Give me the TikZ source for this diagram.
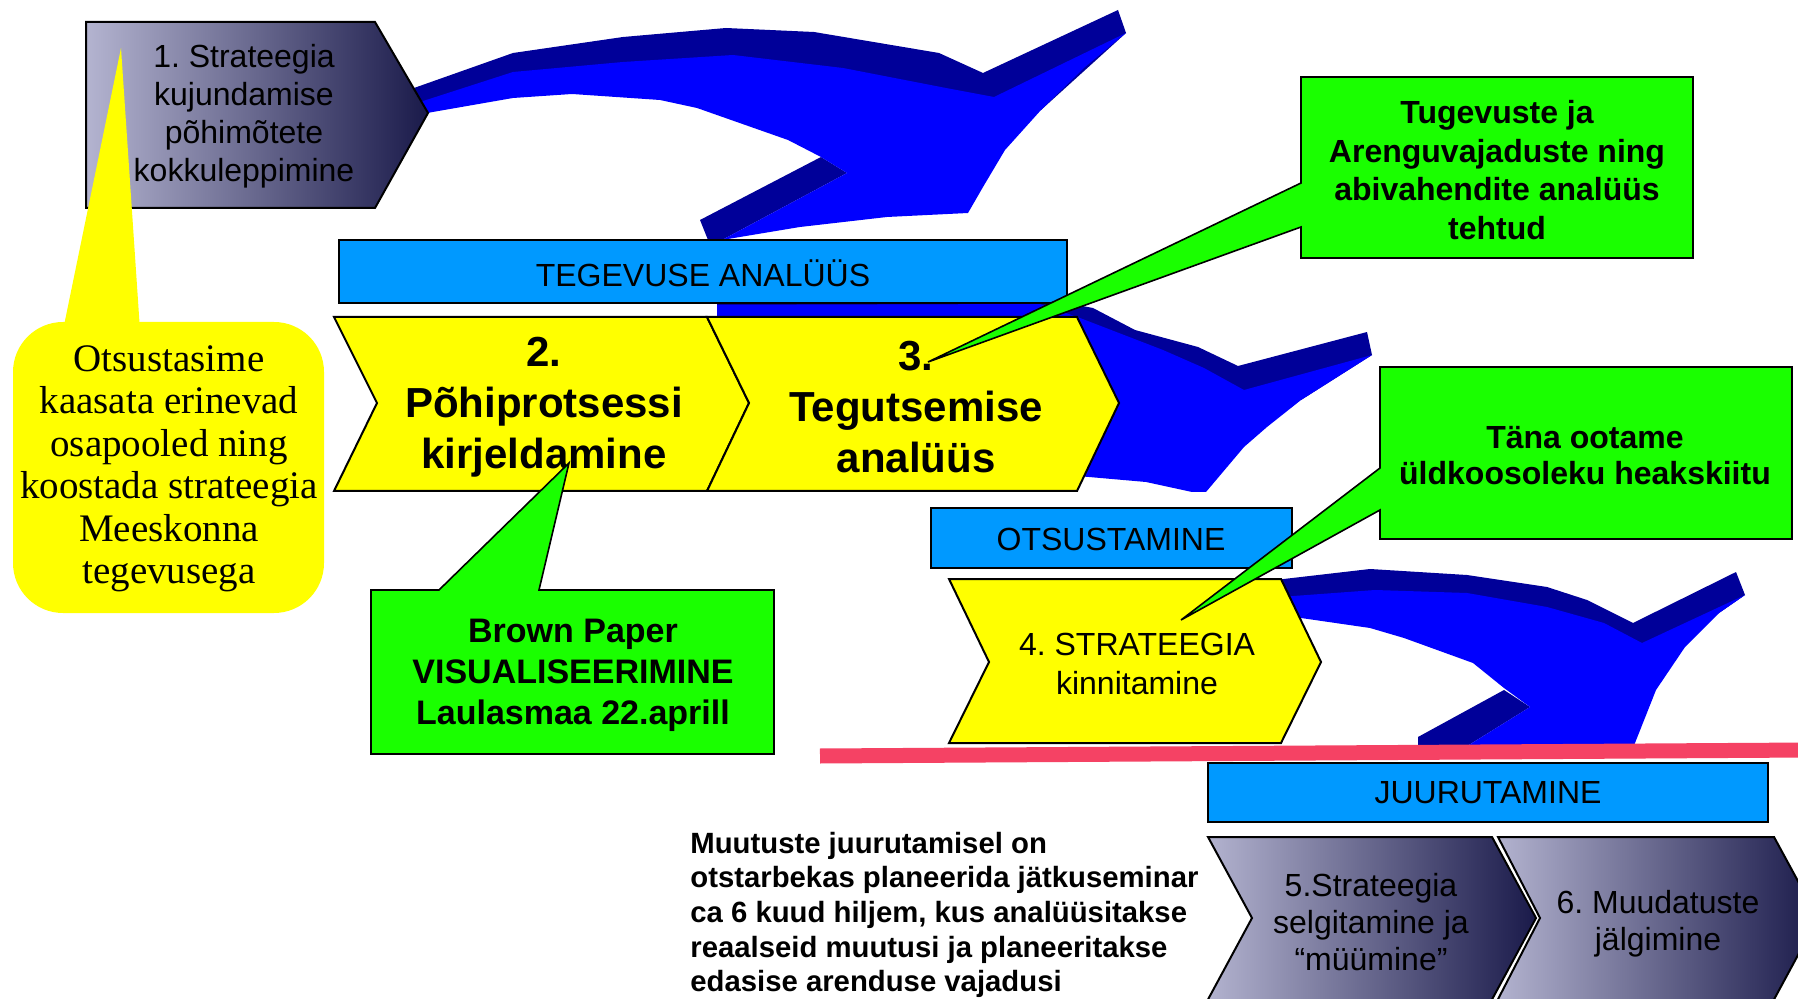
\documentclass[tikz,border=0pt]{standalone}
\usepackage{fontspec}
\setmainfont{Liberation Sans}
\newfontfamily\tnr{Liberation Serif}
\definecolor{bbright}{RGB}{0,0,255}
\definecolor{bdark}{RGB}{0,0,153}
\definecolor{lblue}{RGB}{0,153,255}
\definecolor{yel}{RGB}{255,255,0}
\definecolor{grn}{RGB}{26,255,0}
\definecolor{redl}{RGB}{245,66,100}
\definecolor{gradL}{RGB}{180,180,208}
\definecolor{gradR}{RGB}{26,26,74}
\newcommand{\myfs}[2]{\fontsize{#1}{#2}\selectfont}
\frenchspacing
\begin{document}
\begin{tikzpicture}[x=0.5pt,y=-0.5pt,
  lbl/.style={fill=lblue,draw=black,line width=1pt},
  chev/.style={fill=yel,draw=black,line width=1pt,line join=miter},
  grad/.style={left color=gradL,right color=gradR,draw=black,line width=1pt},
  callout/.style={fill=grn,draw=black,line width=0.8pt},
  txt/.style={inner sep=0pt,align=center}]
\clip (0,0) rectangle (1798,999);
\fill[white] (0,0) rectangle (1798,999);

% ---- arrow 1
\fill[bdark] (414,88) -- (513,53) -- (623,37) -- (726,28) -- (814,32) -- (939,53) -- (983,73) -- (1118,10) -- (1126,33) -- (1041,110) -- (946,110) -- (843,85) -- (733,75) -- (623,80) -- (513,90) -- (427,113) -- cycle;
\fill[bdark] (821,157) -- (847,173) -- (722,240) -- (708,240) -- (700,220) -- cycle;
\fill[bbright] (420,102) -- (513,72) -- (623,62) -- (733,55) -- (843,68) -- (946,88) -- (994,97) -- (1126,33) -- (1085,67) -- (1041,110) -- (1005,150) -- (983,187) -- (968,213) -- (887,217) -- (800,227) -- (722,240) -- (847,173) -- (821,157) -- (788,140) -- (697,108) -- (660,100) -- (572,94) -- (513,98) -- (427,113) -- cycle;

% ---- arrow 2
\fill[bdark] (717,298) -- (900,290) -- (1040,298) -- (1093,308) -- (1135,330) -- (1198,347) -- (1238,366) -- (1367,332) -- (1372,355) -- (1301,400) -- (1240,400) -- (1160,370) -- (1080,330) -- (717,320) -- cycle;
\fill[bbright] (717,305) -- (1040,304) -- (1080,318) -- (1163,350) -- (1204,368) -- (1244,390) -- (1372,355) -- (1301,400) -- (1267,427) -- (1244,447) -- (1206,492) -- (1192,492) -- (1146,482) -- (1089,477) -- (1000,470) -- (717,330) -- cycle;

% ---- arrow 3
\fill[bdark] (1275,580) -- (1370,569) -- (1467,575) -- (1547,587) -- (1587,600) -- (1633,623) -- (1736,572) -- (1745,595) -- (1719,613) -- (1640,660) -- (1540,640) -- (1450,625) -- (1370,612) -- (1275,610) -- cycle;
\fill[bdark] (1504,690) -- (1530,707) -- (1464,748) -- (1418,748) -- (1418,737) -- cycle;
\fill[bbright] (1280,597) -- (1375,590) -- (1467,593) -- (1547,607) -- (1604,623) -- (1642,643) -- (1745,595) -- (1719,613) -- (1685,647) -- (1656,690) -- (1633,748) -- (1464,748) -- (1530,707) -- (1504,688) -- (1473,663) -- (1404,638) -- (1370,628) -- (1301,618) -- (1280,618) -- cycle;

% ---- box 1
\draw[grad] (86,22) -- (375,22) -- (428,113) -- (375,208) -- (86,208) -- cycle;
\node[txt,font=\myfs{16}{19}] (t1) at (244,116) {1. Strateegia\\kujundamise\\põhimõtete\\kokkuleppimine};

% ---- blue labels
\draw[lbl] (339,240) rectangle (1067,303);
\node[txt,font=\myfs{16}{19}] (l1) at (703,273) {TEGEVUSE ANALÜÜS};
\draw[lbl] (931,508) rectangle (1292,568);
\node[txt,font=\myfs{16}{19}] (l2) at (1111,539) {OTSUSTAMINE};
\draw[lbl] (1208,763) rectangle (1768,822);
\node[txt,font=\myfs{16}{19}] (l3) at (1488,793) {JUURUTAMINE};

% ---- yellow chevrons
\draw[chev] (334,317) -- (707,317) -- (749,403) -- (707,491) -- (334,491) -- (377,403) -- cycle;
\draw[chev] (707,317) -- (1077,317) -- (1119,403) -- (1077,491) -- (707,491) -- (749,403) -- cycle;
\node[txt,font=\bfseries\myfs{21}{25.5}] (c2) at (544,407) {2.\\Põhiprotsessi\\kirjeldamine};
\node[txt,font=\bfseries\myfs{21}{25.5}] (c3) at (916,407) {3.\\Tegutsemise\\analüüs};
\draw[chev] (949,579) -- (1281,579) -- (1321,662) -- (1281,743) -- (949,743) -- (989,662) -- cycle;
\node[txt,font=\myfs{16}{19.5}] (c4) at (1137,664) {4. STRATEEGIA\\kinnitamine};

% ---- yellow callout
\fill[yel,rounded corners=25pt] (13,322) rectangle (324,613);
\fill[yel] (60,345) -- (121,48) -- (141,345) -- cycle;
\node[txt,font=\tnr\myfs{19.5}{21.25}] (y1) at (169,469) {Otsustasime\\kaasata erinevad\\osapooled ning\\koostada strateegia\\Meeskonna\\tegevusega};

% ---- green callouts
\draw[callout] (1301,77) -- (1693,77) -- (1693,258) -- (1301,258) -- (1301,227) -- (928,362) -- (1301,183) -- cycle;
\node[txt,font=\bfseries\myfs{16}{19.25}] (g1) at (1497,170) {Tugevuste ja\\Arenguvajaduste ning\\abivahendite analüüs\\tehtud};
\draw[callout] (1380,367) -- (1792,367) -- (1792,539) -- (1380,539) -- (1380,510) -- (1181,620) -- (1380,468) -- cycle;
\node[txt,font=\bfseries\myfs{16}{18}] (g2) at (1585,456) {Täna ootame\\üldkoosoleku heakskiitu};
\draw[callout] (371,590) -- (439,590) -- (569,463) -- (539,590) -- (774,590) -- (774,754) -- (371,754) -- cycle;
\node[txt,font=\bfseries\myfs{17}{20.5}] (g3) at (573,675) {Brown Paper\\VISUALISEERIMINE\\Laulasmaa 22.aprill};

% ---- red line
\draw[redl,line width=7.5pt] (820,756) -- (1810,750);

% ---- bottom chevrons
\draw[grad] (1208,837) -- (1492,837) -- (1536,918) -- (1489,1005) -- (1205,1005) -- (1252,918) -- cycle;
\draw[grad] (1498,837) -- (1774,837) -- (1818,918) -- (1771,1005) -- (1495,1005) -- (1540,918) -- cycle;
\node[txt,font=\myfs{16}{18.5}] (c5) at (1371,922) {5.Strateegia\\selgitamine ja\\“müümine”};
\node[txt,font=\myfs{16}{18.5}] (c6) at (1658,924) {6. Muudatuste\\jälgimine};

% ---- bottom text
\node[inner sep=0pt,align=left,anchor=west,font=\bfseries\myfs{14.65}{17.35}] (bt) at (690,915) {Muutuste juurutamisel on\\otstarbekas planeerida jätkuseminar\\ca 6 kuud hiljem, kus analüüsitakse\\reaalseid muutusi ja planeeritakse\\edasise arenduse vajadusi};
\end{tikzpicture}
\end{document}
